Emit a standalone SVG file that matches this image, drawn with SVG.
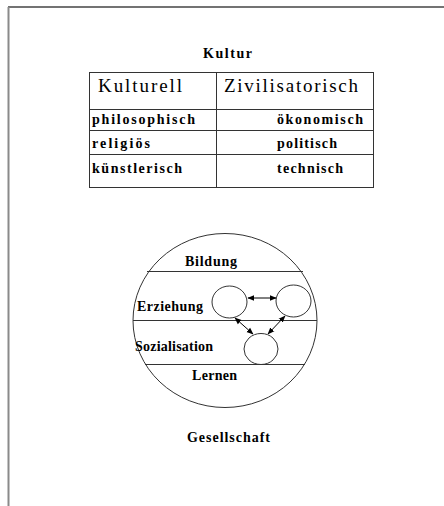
<svg xmlns="http://www.w3.org/2000/svg" width="444" height="506" viewBox="0 0 444 506">
<style>
.b{font-family:"Liberation Serif","Times New Roman",serif;font-weight:bold;font-size:14px;fill:#000}
.h{font-family:"Liberation Serif","Times New Roman",serif;font-size:19px;fill:#000}
.c{font-family:"Liberation Serif","Times New Roman",serif;font-weight:bold;font-size:14px;fill:#000}
.ln{stroke:#333;stroke-width:1;fill:none}
.cn{stroke:#000;stroke-width:1;fill:none;marker-start:url(#ah);marker-end:url(#ah)}
</style>
<defs>
<marker id="ah" viewBox="0 0 10 10" refX="9" refY="5" markerWidth="7" markerHeight="7" orient="auto-start-reverse" markerUnits="userSpaceOnUse">
<path d="M0,1 L10,5 L0,9 z" fill="#000"/>
</marker>
</defs>
<rect width="444" height="506" fill="#fff"/>
<g id="frame">
<line x1="8" y1="7" x2="444" y2="7" stroke="#444" stroke-width="1.5"/>
<line x1="8.5" y1="7" x2="8.5" y2="506" stroke="#8a8a8a" stroke-width="2"/>
</g>
<g id="title-kultur"><text class="b" x="203" y="58" textLength="49" lengthAdjust="spacing">Kultur</text></g>
<g id="table">
<rect class="ln" x="89.5" y="72.5" width="284" height="115"/>
<line class="ln" x1="216.5" y1="72.5" x2="216.5" y2="187.5"/>
<line class="ln" x1="89.5" y1="109.5" x2="373.5" y2="109.5"/>
<line class="ln" x1="89.5" y1="130.5" x2="373.5" y2="130.5"/>
<line class="ln" x1="89.5" y1="154.5" x2="373.5" y2="154.5"/>
<text class="h" x="98" y="92" textLength="84" lengthAdjust="spacing">Kulturell</text>
<text class="h" x="224" y="92" textLength="134" lengthAdjust="spacing">Zivilisatorisch</text>
<text class="c" x="92" y="124" textLength="103" lengthAdjust="spacing">philosophisch</text>
<text class="c" x="92" y="148" textLength="58" lengthAdjust="spacing">religiös</text>
<text class="c" x="92" y="173" textLength="90" lengthAdjust="spacing">künstlerisch</text>
<text class="c" x="277" y="124" textLength="86" lengthAdjust="spacing">ökonomisch</text>
<text class="c" x="277" y="148" textLength="60" lengthAdjust="spacing">politisch</text>
<text class="c" x="277" y="173" textLength="66" lengthAdjust="spacing">technisch</text>
</g>
<g id="gesellschaft-ellipse">
<ellipse class="ln" cx="225" cy="320.5" rx="92" ry="87"/>
<line class="ln" x1="147" y1="271.5" x2="303" y2="271.5"/>
<line class="ln" x1="133" y1="320.5" x2="317" y2="320.5"/>
<line class="ln" x1="145" y1="364.5" x2="305" y2="364.5"/>
<text class="b" x="185" y="266" textLength="52" lengthAdjust="spacing">Bildung</text>
<text class="b" x="137" y="311" textLength="66" lengthAdjust="spacing">Erziehung</text>
<text class="b" x="135" y="351" textLength="78" lengthAdjust="spacing">Sozialisation</text>
<text class="b" x="192" y="380" textLength="45" lengthAdjust="spacing">Lernen</text>
</g>
<g id="circle-left"><ellipse class="ln" cx="229.5" cy="302" rx="17.5" ry="16"/></g>
<g id="circle-right"><ellipse class="ln" cx="293.5" cy="301" rx="17.5" ry="16"/></g>
<g id="circle-bottom"><ellipse class="ln" cx="261" cy="349" rx="17" ry="15.5"/></g>
<g id="connectors">
<line class="cn" x1="248" y1="298" x2="276" y2="298"/>
<line class="cn" x1="235" y1="318" x2="253" y2="334"/>
<line class="cn" x1="285" y1="316" x2="268" y2="334"/>
</g>
<g id="label-gesellschaft"><text class="b" x="187" y="442" textLength="83" lengthAdjust="spacing">Gesellschaft</text></g>
</svg>
